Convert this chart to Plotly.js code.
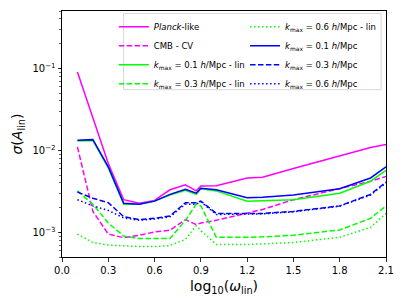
<!DOCTYPE html>
<html>
<head>
<meta charset="utf-8">
<script src="https://cdn.plot.ly/plotly-3.0.1.min.js"></script>
<style>html,body{margin:0;padding:0;background:#fff;} #chart{width:404px;height:303px;}</style>
</head>
<body>
<div id="chart"></div>
<script>
// log10(omega_lin) grid
const logOmega = [0.1, 0.2, 0.3, 0.4, 0.5, 0.6, 0.7, 0.8, 0.87, 0.9, 1.0, 1.2, 1.3, 1.5, 1.8, 2.0, 2.1];

const planckLike  = [0.09, 0.025, 0.0069, 0.0025, 0.00227, 0.00245, 0.0033, 0.0038, 0.0032, 0.00366, 0.0037, 0.0046, 0.0047, 0.006, 0.0086, 0.0108, 0.0118];
const cmbCV       = [0.011, 0.0018, 0.00095, 0.00086, 0.00092, 0.00101, 0.00106, 0.00143, 0.00124, 0.0013, 0.0014, 0.0017, 0.0019, 0.0025, 0.0034, 0.0042, 0.0048];
const k01lin      = [0.0130, 0.0132, 0.0061, 0.0022, 0.0022, 0.0024, 0.00285, 0.00325, 0.0029, 0.0034, 0.0032, 0.0024, 0.00242, 0.0025, 0.003, 0.0042, 0.0057];
const k03lin      = [0.0032, 0.0022, 0.0013, 0.0009, 0.00084, 0.00084, 0.00084, 0.0014, 0.0022, 0.0021, 0.00087, 0.00087, 0.00088, 0.00092, 0.00107, 0.00148, 0.0021];
const k06lin      = [0.00095, 0.00075, 0.0007, 0.00068, 0.00067, 0.00067, 0.00069, 0.00082, 0.0012, 0.00105, 0.00071, 0.00071, 0.00072, 0.00075, 0.00087, 0.00115, 0.0017];
const k01         = [0.0133, 0.0135, 0.0063, 0.00226, 0.0022, 0.0024, 0.0029, 0.00335, 0.003, 0.00344, 0.0033, 0.00264, 0.00268, 0.00285, 0.0034, 0.0046, 0.0063];
const k03         = [0.0031, 0.0026, 0.0023, 0.00155, 0.00143, 0.00148, 0.00158, 0.0023, 0.0023, 0.0024, 0.0017, 0.00168, 0.0017, 0.0018, 0.0021, 0.0029, 0.0041];
const k06         = [0.0025, 0.0021, 0.00185, 0.0015, 0.0014, 0.00145, 0.00155, 0.0022, 0.0022, 0.00235, 0.00165, 0.00165, 0.00168, 0.00178, 0.00208, 0.00285, 0.004];

const names = [
  '<i>Planck</i>-like',
  'CMB - CV',
  '<i>k</i><sub>max</sub> = 0.1 <i>h</i>/Mpc - lin',
  '<i>k</i><sub>max</sub> = 0.3 <i>h</i>/Mpc - lin',
  '<i>k</i><sub>max</sub> = 0.6 <i>h</i>/Mpc - lin',
  '<i>k</i><sub>max</sub> = 0.1 <i>h</i>/Mpc',
  '<i>k</i><sub>max</sub> = 0.3 <i>h</i>/Mpc',
  '<i>k</i><sub>max</sub> = 0.6 <i>h</i>/Mpc'
];
const xTickVals = [0.0, 0.3, 0.6, 0.9, 1.2, 1.5, 1.8, 2.1];
const yTickVals = [0.001, 0.01, 0.1];
const yTickText = ['10<sup>−3</sup>', '10<sup>−2</sup>', '10<sup>−1</sup>'];

const MAG = '#ff00ff', GRN = '#00ff00', BLU = '#0000ff';
const DASH = '5.5px,2.4px', DOT = '1.5px,2.5px';

function tr(y, name, color, dash, legend) {
  return {x: logOmega, y: y, name: name, type: 'scatter', mode: 'lines',
          line: {color: color, width: 1.5, dash: dash}, legend: legend};
}

const data = [
  tr(planckLike, names[0], MAG, 'solid', 'legend'),
  tr(cmbCV,      names[1], MAG, DASH,    'legend'),
  tr(k01lin,     names[2], GRN, 'solid', 'legend'),
  tr(k03lin,     names[3], GRN, DASH,    'legend'),
  tr(k06lin,     names[4], GRN, DOT,     'legend2'),
  tr(k01,        names[5], BLU, 'solid', 'legend2'),
  tr(k03,        names[6], BLU, DASH,    'legend2'),
  tr(k06,        names[7], BLU, DOT,     'legend2')
];

const F = 'DejaVu Sans, sans-serif';
const legendStyle = {
  bgcolor: 'rgba(0,0,0,0)', borderwidth: 0,
  font: {family: F, size: 8.5, color: '#000'},
  xanchor: 'left', yanchor: 'top', y: 0.995, tracegroupgap: 0
};

const layout = {
  width: 404, height: 303,
  margin: {l: 62, r: 18, t: 11, b: 46},
  paper_bgcolor: '#fff', plot_bgcolor: '#fff',
  font: {family: F, color: '#000'},
  showlegend: true,
  legend: Object.assign({}, legendStyle, {x: 0.16}),
  legend2: Object.assign({}, legendStyle, {x: 0.565}),
  xaxis: {
    range: [0, 2.1], tickvals: xTickVals, tickformat: '.1f',
    ticks: 'outside', ticklen: 3.5, tickwidth: 0.8, tickcolor: '#000',
    showline: true, linecolor: '#000', linewidth: 1, mirror: true,
    showgrid: false, zeroline: false,
    tickfont: {family: F, size: 10, color: '#000'},
    title: {text: 'log<sub>10</sub>(<i>ω</i><sub>lin</sub>)', font: {family: F, size: 14, color: '#000'}, standoff: 6}
  },
  yaxis: {
    type: 'log', range: [Math.log10(5e-4), Math.log10(0.5)],
    tickvals: yTickVals, ticktext: yTickText,
    ticks: 'outside', ticklen: 3.5, tickwidth: 0.8, tickcolor: '#000',
    minor: {ticks: 'outside', ticklen: 2, tickwidth: 0.6, tickcolor: '#000', dtick: 'D1', showgrid: false},
    showline: true, linecolor: '#000', linewidth: 1, mirror: true,
    showgrid: false, zeroline: false,
    tickfont: {family: F, size: 10, color: '#000'},
    title: {text: '<i>σ</i>(<i>A</i><sub>lin</sub>)', font: {family: F, size: 14, color: '#000'}, standoff: 6}
  },
  shapes: [{
    type: 'rect', xref: 'paper', yref: 'paper',
    x0: 0.19, x1: 0.985, y0: 0.68, y1: 0.99,
    line: {color: '#cccccc', width: 0.8}, fillcolor: 'rgba(255,255,255,0.8)', layer: 'below'
  }]
};

Plotly.newPlot('chart', data, layout, {staticPlot: true, displayModeBar: false});
</script>
</body>
</html>
